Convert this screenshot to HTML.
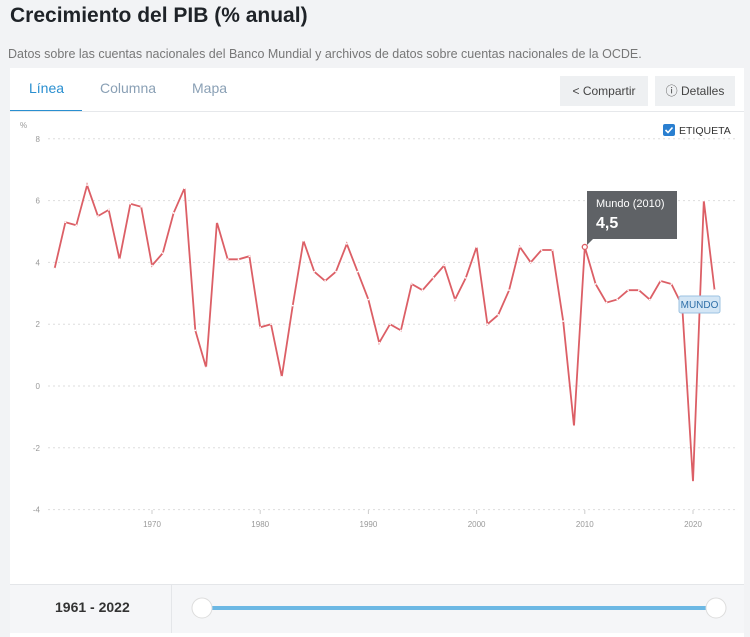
<!DOCTYPE html><html><head><meta charset="utf-8"><style>
body{margin:0;width:750px;height:637px;background:#f2f3f5;font-family:"Liberation Sans",sans-serif;overflow:hidden;position:relative}
.t{position:absolute;left:10px;top:4px;font-size:21px;font-weight:bold;color:#1f2328}
.s{position:absolute;left:8px;top:47px;font-size:12.5px;color:#777}
.p{position:absolute;left:10px;top:68px;width:734px;height:569px;background:#fff}
.tab{position:absolute;top:12px;font-size:14px;color:#8aa0b5}
.btn{position:absolute;top:8px;height:30px;background:#eef0f2;font-size:12px;color:#444;line-height:30px;text-align:center}
.bot{position:absolute;left:0;top:516px;width:734px;height:48px;background:#f5f6f8;border-top:1px solid #e4e6e9}
</style></head><body>
<div class="t">Crecimiento del PIB (% anual)</div>
<div class="s">Datos sobre las cuentas nacionales del Banco Mundial y archivos de datos sobre cuentas nacionales de la OCDE.</div>
<div class="p">
<div class="tab" style="left:19px;color:#2a8fd0">Línea</div>
<div class="tab" style="left:90px">Columna</div>
<div class="tab" style="left:182px">Mapa</div>
<div style="position:absolute;left:0;top:42px;width:72px;height:2px;background:#2a8fd0"></div>
<div style="position:absolute;left:0;top:43px;width:734px;height:1px;background:#e6e8eb"></div>
<div class="btn" style="left:550px;width:88px">&lt; Compartir</div>
<div class="btn" style="left:645px;width:80px">ⓘ Detalles</div>
<div class="bot"><div style="position:absolute;left:45px;top:14px;font-size:14px;font-weight:bold;color:#333">1961 - 2022</div>
<div style="position:absolute;left:161px;top:0;width:1px;height:48px;background:#e4e6e9"></div></div>
</div>
<svg id="c" width="750" height="637" style="position:absolute;left:0;top:0" font-family="Liberation Sans,sans-serif"></svg>
<script>
var d=[3.8,5.3,5.2,6.5,5.5,5.7,4.1,5.9,5.8,3.9,4.3,5.6,6.4,1.8,0.6,5.3,4.1,4.1,4.2,1.9,2.0,0.3,2.6,4.7,3.7,3.4,3.7,4.6,3.7,2.8,1.4,2.0,1.8,3.3,3.1,3.5,3.9,2.8,3.5,4.5,2.0,2.3,3.1,4.5,4.0,4.4,4.4,2.1,-1.3,4.5,3.3,2.7,2.8,3.1,3.1,2.8,3.4,3.3,2.6,-3.1,6.0,3.1];
function X(y){return 152+(y-1970)*10.82}function Y(v){return 386-v*30.9}
var s='<text x="20" y="128" font-size="8" fill="#999">%</text>';
for(var v=-4;v<=8;v+=2){s+='<line x1="48" x2="735" y1="'+Y(v)+'" y2="'+Y(v)+'" stroke="#ddd" stroke-dasharray="2,3"/><text x="40" y="'+(Y(v)+3)+'" font-size="8" fill="#999" text-anchor="end">'+v+'</text>'}
for(var y=1970;y<=2020;y+=10){s+='<line x1="'+X(y)+'" x2="'+X(y)+'" y1="510" y2="514" stroke="#ccc"/><text x="'+X(y)+'" y="527" font-size="8" fill="#999" text-anchor="middle">'+y+'</text>'}
var pts=d.map(function(v,i){return X(1961+i).toFixed(1)+','+Y(v).toFixed(1)}).join(' ');
s+='<polyline points="'+pts+'" fill="none" stroke="#dc5f66" stroke-width="1.8"/>';
d.forEach(function(v,i){s+='<circle cx="'+X(1961+i)+'" cy="'+Y(v)+'" r="0.9" fill="#fff"/>'});
s+='<circle cx="'+X(2010)+'" cy="'+Y(4.5)+'" r="2.5" fill="#fff" stroke="#dc5f66" stroke-width="1.3"/>';
s+='<path d="M587 191h90v48h-84l-6 6v-6z" fill="#5f6266"/><text x="596" y="207" font-size="11" fill="#fff">Mundo (2010)</text><text x="596" y="228" font-size="16" font-weight="bold" fill="#fff">4,5</text>';
s+='<rect x="679" y="296" width="41" height="17" rx="2" fill="#d4e6f5" stroke="#9cc3e2"/><text x="699.5" y="308" font-size="10" fill="#2e6fa8" text-anchor="middle">MUNDO</text>';
s+='<rect x="663" y="124" width="12" height="12" rx="2" fill="#2a7fd0"/><path d="M665.5 130l2.5 2.5 4.5-5" stroke="#fff" stroke-width="1.6" fill="none"/><text x="679" y="134" font-size="10.5" fill="#333">ETIQUETA</text>';
s+='<line x1="210" x2="707" y1="608" y2="608" stroke="#6cb8e4" stroke-width="4"/><circle cx="202" cy="608" r="10" fill="#fff" stroke="#ddd"/><circle cx="716" cy="608" r="10" fill="#fff" stroke="#ddd"/>';
document.getElementById('c').innerHTML=s;
</script>
</body></html>
